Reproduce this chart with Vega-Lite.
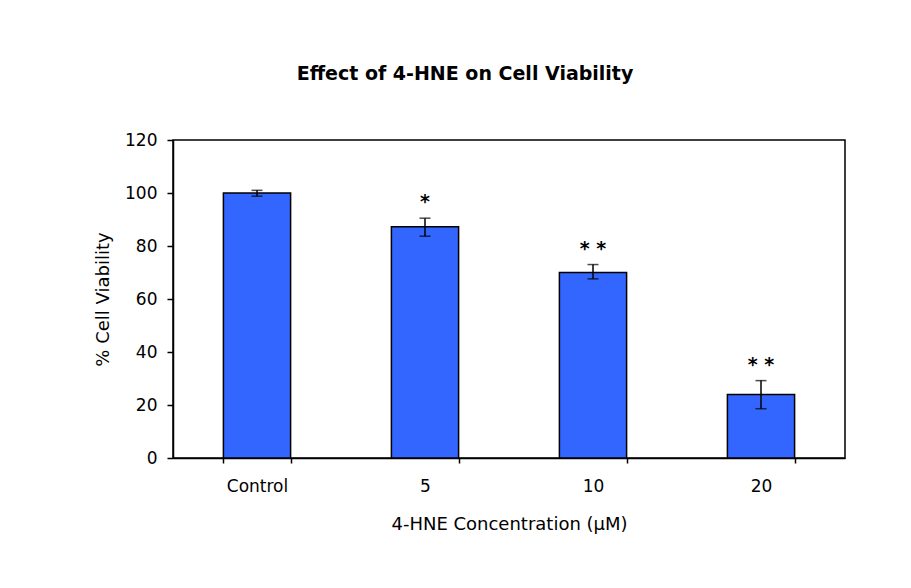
{
  "$schema": "https://vega.github.io/schema/vega-lite/v6.json",
  "width": 672,
  "height": 318,
  "autosize": {"type": "none"},
  "padding": {"left": 173, "top": 140, "right": 66, "bottom": 130},
  "background": "#ffffff",
  "title": {
    "text": "Effect of 4-HNE on Cell Viability",
    "font": "DejaVu Sans",
    "fontSize": 19,
    "fontWeight": "bold",
    "color": "#000000",
    "anchor": "middle",
    "frame": "group",
    "dx": -44,
    "baseline": "alphabetic",
    "offset": 32
  },
  "data": {
    "values": [
      {"conc": "Control", "viability": 100, "low": 98.8, "high": 101.0, "sig": ""},
      {"conc": "5", "viability": 87.3, "low": 83.7, "high": 90.5, "sig": "*"},
      {"conc": "10", "viability": 70, "low": 67.6, "high": 73.0, "sig": "* *"},
      {"conc": "20", "viability": 24, "low": 18.6, "high": 29.2, "sig": "* *"}
    ]
  },
  "encoding": {
    "x": {
      "field": "conc",
      "type": "nominal",
      "sort": ["Control", "5", "10", "20"],
      "scale": {"paddingInner": 0.6, "paddingOuter": 0.3},
      "axis": {
        "title": "4-HNE Concentration (μM)",
        "labelAngle": 0,
        "ticks": true,
        "tickBand": "extent",
        "tickSize": 5,
        "labelPadding": 15,
        "titlePadding": 21
      }
    }
  },
  "layer": [
    {
      "mark": {"type": "bar", "fill": "#3366FF", "stroke": "#000000", "strokeWidth": 1.5},
      "encoding": {
        "y": {
          "field": "viability",
          "type": "quantitative",
          "scale": {"domain": [0, 120], "nice": false},
          "axis": {
            "title": "% Cell Viability",
            "values": [0, 20, 40, 60, 80, 100, 120],
            "tickSize": 6,
            "labelPadding": 10,
            "titlePadding": 12,
            "grid": false
          }
        }
      }
    },
    {
      "mark": {"type": "rule", "color": "#000000", "strokeWidth": 1.5},
      "encoding": {
        "y": {"field": "low", "type": "quantitative"},
        "y2": {"field": "high"}
      }
    },
    {
      "mark": {"type": "tick", "orient": "horizontal", "color": "#000000", "size": 11, "thickness": 1.5},
      "encoding": {"y": {"field": "low", "type": "quantitative"}}
    },
    {
      "mark": {"type": "tick", "orient": "horizontal", "color": "#000000", "size": 11, "thickness": 1.5},
      "encoding": {"y": {"field": "high", "type": "quantitative"}}
    },
    {
      "mark": {"type": "text", "font": "DejaVu Sans", "fontSize": 19, "fontWeight": "bold", "baseline": "alphabetic", "dy": -10, "color": "#000000"},
      "encoding": {
        "y": {"field": "high", "type": "quantitative"},
        "text": {"field": "sig"}
      }
    }
  ],
  "config": {
    "view": {"stroke": "#000000", "strokeWidth": 1.5},
    "axis": {
      "domainColor": "#000000",
      "domainWidth": 1.5,
      "ticks": true,
      "tickColor": "#000000",
      "tickWidth": 1.5,
      "labelFont": "DejaVu Sans",
      "labelFontSize": 17,
      "labelColor": "#000000",
      "titleFont": "DejaVu Sans",
      "titleFontSize": 18,
      "titleFontWeight": "normal",
      "titleColor": "#000000"
    }
  }
}
